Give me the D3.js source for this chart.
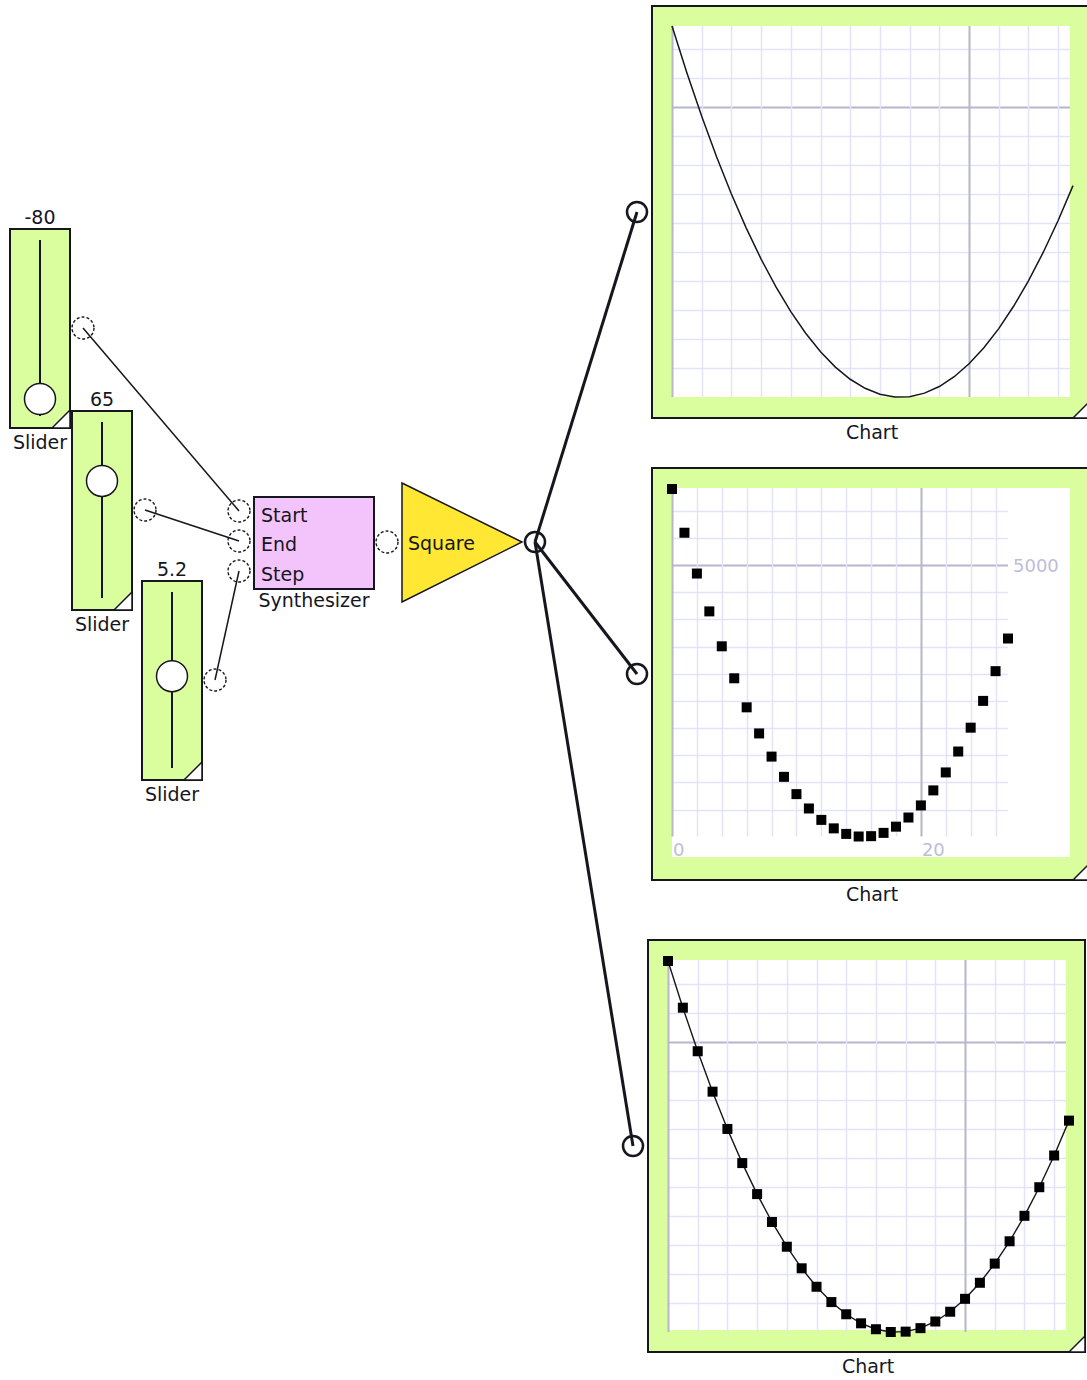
<!DOCTYPE html>
<html>
<head>
<meta charset="utf-8">
<script src="https://cdn.jsdelivr.net/npm/d3@7"></script>
<style>
body { margin: 0; background: #fff; }
svg { display: block; font-family: 'DejaVu Sans', Verdana, sans-serif; }
</style>
</head>
<body>
<svg></svg>
<script>
'use strict'

// slider settings feeding the synthesizer
const sliderValues = [-80, 65, 5.2]
const sliderLabels = ['-80', '65', '5.2']
const sliderMin = [-80, 0, 0]
const sliderMax = [100, 100, 10.7]
const synthInputs = ['Start', 'End', 'Step']

// output of the Square block (one value per synthesizer step)
const squared = [6400, 5595.04, 4844.16, 4147.36, 3504.64, 2916, 2381.44, 1900.96,
    1474.56, 1102.24, 784, 519.84, 309.76, 153.76, 51.84, 4, 10.24, 70.56, 184.96,
    353.44, 576, 852.64, 1183.36, 1568.16, 2007.04, 2500, 3047.04, 3648.16]

const xTickLabels = [0, 20]
const yTickLabels = [5000]
const xGridStep = 2
const yGridStep = 500
const xMajor = [0, 20]
const yMajor = [5000]

const width = 1087
const height = 1380
const ink = '#16161e'
const green = '#dafe9e'
const minorGrid = '#e2e2fa'
const majorGrid = '#b6b6cc'
const labelGrey = '#bdbdd8'

const svg = d3.select('svg').attr('width', width).attr('height', height)
svg.append('rect').attr('width', width).attr('height', height).attr('fill', '#fff')

const links = svg.append('g').attr('class', 'links')
const blocks = svg.append('g').attr('class', 'blocks')
const ports = svg.append('g').attr('class', 'ports')

function text(g, x, y, s, anchor, color, size) {
    return g.append('text')
        .attr('x', x).attr('y', y)
        .attr('text-anchor', anchor || 'start')
        .attr('fill', color || ink)
        .attr('font-size', size || 19)
        .text(s)
}

function dashedPort(x, y) {
    ports.append('circle')
        .attr('cx', x).attr('cy', y).attr('r', 11)
        .attr('fill', 'none').attr('stroke', ink)
        .attr('stroke-width', 1.4).attr('stroke-dasharray', '3,2')
}

function solidPort(x, y) {
    ports.append('circle')
        .attr('cx', x).attr('cy', y).attr('r', 10)
        .attr('fill', 'none').attr('stroke', ink).attr('stroke-width', 2.5)
}

function corner(g, x, y, size) {
    g.append('path')
        .attr('d', `M${x - size},${y} L${x},${y - size} L${x},${y} Z`)
        .attr('fill', '#fff').attr('stroke', ink).attr('stroke-width', 1.5)
}

// ---- sliders
const sliderPos = [[10, 229], [72, 411], [142, 581]]
const sliderW = 60
const sliderH = 199
const synthPortPos = synthInputs.map((d, i) => [239, 511 + 30 * i])

sliderValues.forEach((v, i) => {
    const [x, y] = sliderPos[i]
    const g = blocks.append('g')
    const knob = d3.scaleLinear().domain([sliderMin[i], sliderMax[i]]).range([y + 170, y + 16])

    g.append('rect')
        .attr('x', x).attr('y', y).attr('width', sliderW).attr('height', sliderH)
        .attr('fill', green).attr('stroke', ink).attr('stroke-width', 2)
    corner(g, x + sliderW, y + sliderH, 18)
    g.append('line')
        .attr('x1', x + 30).attr('x2', x + 30)
        .attr('y1', y + 11).attr('y2', y + sliderH - 12)
        .attr('stroke', ink).attr('stroke-width', 2)
    g.append('circle')
        .attr('cx', x + 30).attr('cy', knob(v)).attr('r', 15.5)
        .attr('fill', '#fff').attr('stroke', ink).attr('stroke-width', 1.5)
    text(g, x + 30, y - 5, sliderLabels[i], 'middle')
    text(g, x + 30, y + sliderH + 21, 'Slider', 'middle')

    const px = x + sliderW + 13
    const py = y + 99
    dashedPort(px, py)
    links.append('line')
        .attr('x1', px).attr('y1', py)
        .attr('x2', synthPortPos[i][0]).attr('y2', synthPortPos[i][1])
        .attr('stroke', ink).attr('stroke-width', 1.5)
})

// ---- synthesizer
const synth = blocks.append('g')
synth.append('rect')
    .attr('x', 254).attr('y', 497).attr('width', 120).attr('height', 92)
    .attr('fill', '#f2c4fb').attr('stroke', ink).attr('stroke-width', 2)
synthInputs.forEach((s, i) => {
    text(synth, 261, 522 + 29.3 * i, s)
    dashedPort(synthPortPos[i][0], synthPortPos[i][1])
})
text(synth, 314, 607, 'Synthesizer', 'middle')
dashedPort(387, 542)

// ---- square block
const sq = blocks.append('g')
sq.append('path')
    .attr('d', 'M402,483 L522,542 L402,602 Z')
    .attr('fill', '#ffe734').attr('stroke', ink).attr('stroke-width', 1.5)
text(sq, 408, 550, 'Square')
const out = [535, 542]
solidPort(out[0], out[1])

// ---- charts
const charts = [
    { px: 672, py: 26, plotW: 401, top: 0, bottom: 371, whiteH: 371, mode: 'line', labels: false },
    { px: 672, py: 488, plotW: 336, top: 1, bottom: 348.5, whiteH: 369, mode: 'points', labels: true },
    { px: 668, py: 960, plotW: 401, top: 1, bottom: 372, whiteH: 370, mode: 'both', labels: false }
]
const whiteW = 398
const n = squared.length

charts.forEach(c => {
    const g = blocks.append('g')
    const bx = c.px - 20
    const by = c.py - 20
    const bw = 437
    const bh = 412

    g.append('rect')
        .attr('x', bx).attr('y', by).attr('width', bw).attr('height', bh)
        .attr('fill', green).attr('stroke', ink).attr('stroke-width', 2)
    corner(g, bx + bw, by + bh, 16)
    g.append('rect')
        .attr('x', c.px).attr('y', c.py).attr('width', whiteW).attr('height', c.whiteH)
        .attr('fill', '#fff')

    const x = d3.scaleLinear().domain([0, n - 1]).range([c.px, c.px + c.plotW])
    const y = d3.scaleLinear().domain(d3.extent(squared)).range([c.py + c.bottom, c.py + c.top])
    const xEnd = Math.min(c.px + whiteW, x(n - 1))

    const xGrid = d3.range(0, n, xGridStep)
    const yGrid = d3.range(yGridStep, d3.max(squared), yGridStep)

    const grid = g.append('g')
    grid.selectAll('line.h')
        .data(yGrid.sort((a, b) => yMajor.includes(a) - yMajor.includes(b)))
        .join('line')
        .attr('class', 'h')
        .attr('x1', c.px).attr('x2', xEnd)
        .attr('y1', d => Math.round(y(d)) + 0.5).attr('y2', d => Math.round(y(d)) + 0.5)
        .attr('stroke', d => yMajor.includes(d) ? majorGrid : minorGrid)
        .attr('stroke-width', d => yMajor.includes(d) ? 2 : 1.5)
    grid.selectAll('line.v')
        .data(xGrid)
        .join('line')
        .attr('class', 'v')
        .attr('x1', d => Math.round(x(d)) + 0.5).attr('x2', d => Math.round(x(d)) + 0.5)
        .attr('y1', c.py).attr('y2', c.py + c.bottom)
        .attr('stroke', d => xMajor.includes(d) ? majorGrid : minorGrid)
        .attr('stroke-width', d => xMajor.includes(d) ? 2 : 1.5)

    if (c.labels) {
        xTickLabels.forEach(v => text(g, x(v) + 1, c.py + c.bottom + 19, v, 'start', labelGrey, 18))
        yTickLabels.forEach(v => text(g, x(n - 1) + 5, y(v) + 7, v, 'start', labelGrey, 18))
    }

    const data = squared.map((v, i) => [i, v])
    if (c.mode !== 'points') {
        g.append('path')
            .datum(data)
            .attr('d', d3.line().x(d => x(d[0])).y(d => y(d[1])))
            .attr('fill', 'none').attr('stroke', ink)
            .attr('stroke-width', c.mode === 'line' ? 1.5 : 1.4)
    }
    if (c.mode !== 'line') {
        g.selectAll('rect.pt')
            .data(data)
            .join('rect')
            .attr('class', 'pt')
            .attr('x', d => x(d[0]) - 5).attr('y', d => y(d[1]) - 5)
            .attr('width', 10).attr('height', 10)
            .attr('fill', '#000')
    }

    text(g, bx + bw / 2 + 1.5, by + bh + 21, 'Chart', 'middle')

    const port = [bx - 15, by + bh / 2]
    solidPort(port[0], port[1])
    links.append('line')
        .attr('x1', out[0]).attr('y1', out[1])
        .attr('x2', port[0]).attr('y2', port[1])
        .attr('stroke', ink).attr('stroke-width', 3)
})
</script>
</body>
</html>
